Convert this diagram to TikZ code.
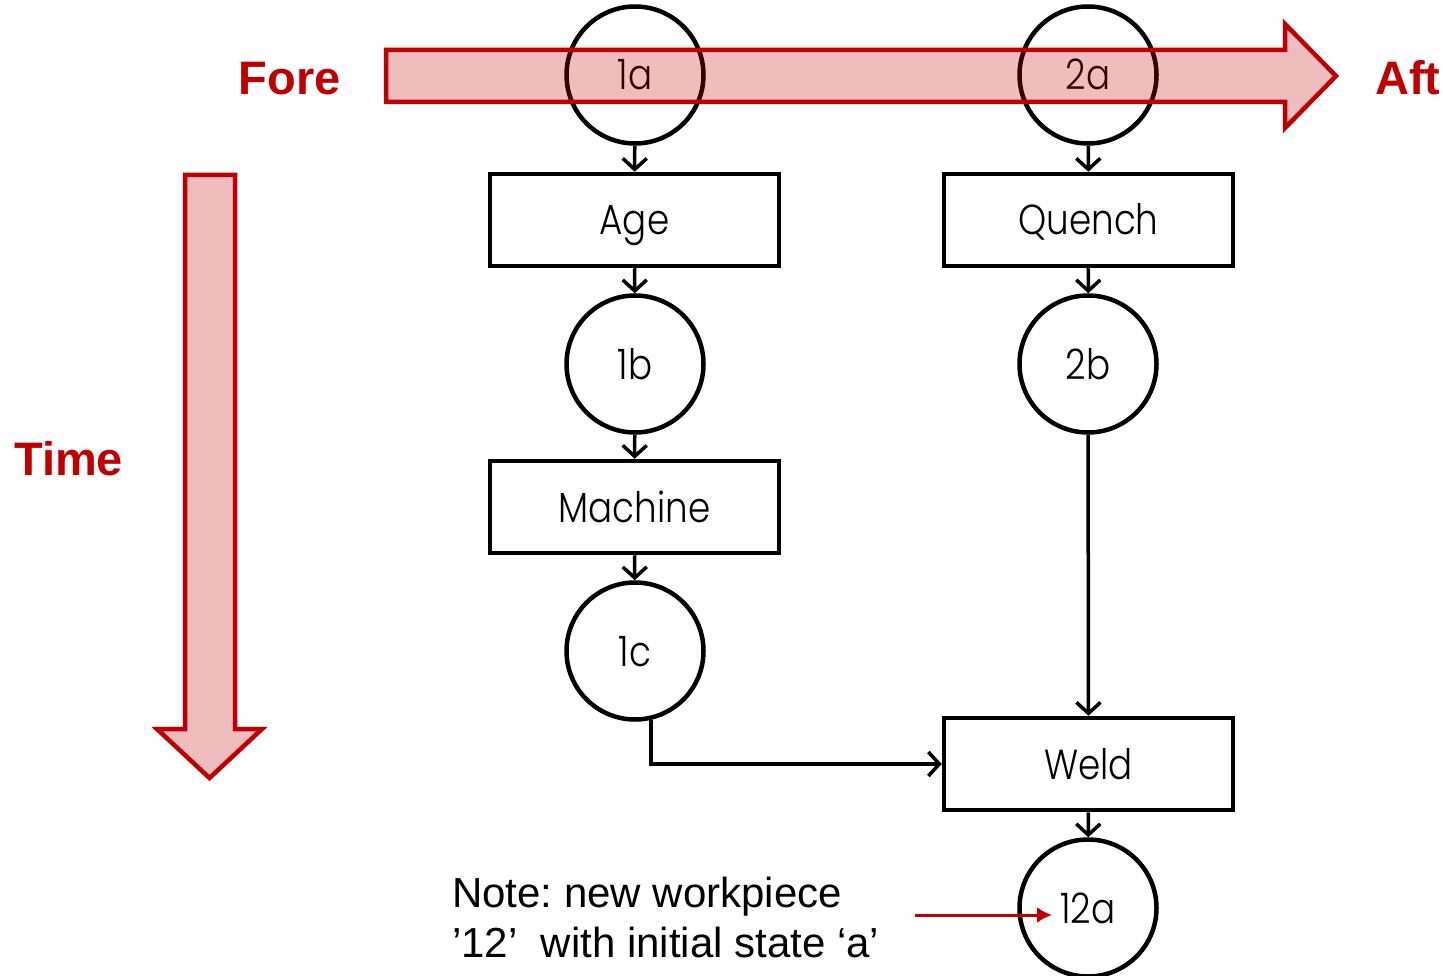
\documentclass[tikz,border=0pt]{standalone}
\usepackage{fontspec}
\setmainfont{Liberation Sans}
\newfontfamily\geo{Poppins Light}[FakeStretch=0.85]
\usetikzlibrary{arrows.meta,positioning}
\definecolor{dred}{HTML}{C00000}
\frenchspacing
\begin{document}
\begin{tikzpicture}[x=1pt,y=-1pt,
  labelfont/.style={font=\geo\fontsize{42}{46}\selectfont,text height=30pt,text depth=0pt},
  state/.style={draw=black,line width=4.5pt,circle,minimum size=137pt,inner sep=0pt,labelfont},
  stepbox/.style={draw=black,line width=4.5pt,rectangle,minimum width=289pt,minimum height=92pt,
    inner sep=0pt,labelfont},
  flow/.style={line width=3.5pt,-{Straight Barb[length=11pt,width=24pt,line width=3.5pt]}},
  bigarrow/.style={draw=dred,line width=4.5pt,fill=dred,fill opacity=0.26,line join=miter},
  axislabel/.style={text=dred,font=\bfseries\fontsize{47}{54}\selectfont,inner sep=0pt},
  notetext/.style={font=\fontsize{42}{50}\selectfont,inner sep=0pt,anchor=base west}]
\useasboundingbox (0,0) rectangle (1443,976);

% states and process steps
\node[state] (s1a) at (635,75) {1a};
\node[state] (s2a) at (1088,75) {2a};
\node[stepbox] (age) at (634.5,220) {Age};
\node[stepbox] (quench) at (1088.5,220) {Quench};
\node[state] (s1b) at (635,364) {1b};
\node[state] (s2b) at (1088,364) {2b};
\node[stepbox] (machine) at (634.5,507) {Machine};
\node[state] (s1c) at (635,651) {1c};
\node[stepbox] (weld) at (1088.5,764) {Weld};
\node[state] (s12a) at (1088,908) {12a};

% flow connectors
\draw[flow] (s1a) -- (age);
\draw[flow] (age) -- (s1b);
\draw[flow] (s1b) -- (machine);
\draw[flow] (machine) -- (s1c);
\draw[flow] (s2a) -- (quench);
\draw[flow] (quench) -- (s2b);
\draw[flow] (s2b) -- (weld);
\draw[flow] (s1c.-77.4) |- (weld.west);
\draw[flow] (weld) -- (s12a);

% direction arrows
\draw[bigarrow] (386,50) -- (1285,50) -- (1285,24) -- (1336,76) -- (1285,128) -- (1285,102) -- (386,102) -- cycle;
\draw[bigarrow] (185,175) -- (235,175) -- (235,729) -- (262,729) -- (209.5,778) -- (157,729) -- (185,729) -- cycle;

\node[axislabel,anchor=base east] (fore) at (341,95) {Fore};
\node[axislabel,anchor=base west] (aft) at (1375,95) {Aft};
\node[axislabel,anchor=base west] (time) at (14,475) {Time};

% note on the new workpiece
\node[notetext] (note1) at (452,907) {Note: new workpiece};
\node[notetext] (note2) at (452,957) {’12’\ \ with initial state ‘a’};
\coordinate (notetail) at (915,915);
\draw[dred,line width=3pt,-{Latex[length=15pt,width=16pt]}] (notetail) -- (1052,915);
\end{tikzpicture}
\end{document}
